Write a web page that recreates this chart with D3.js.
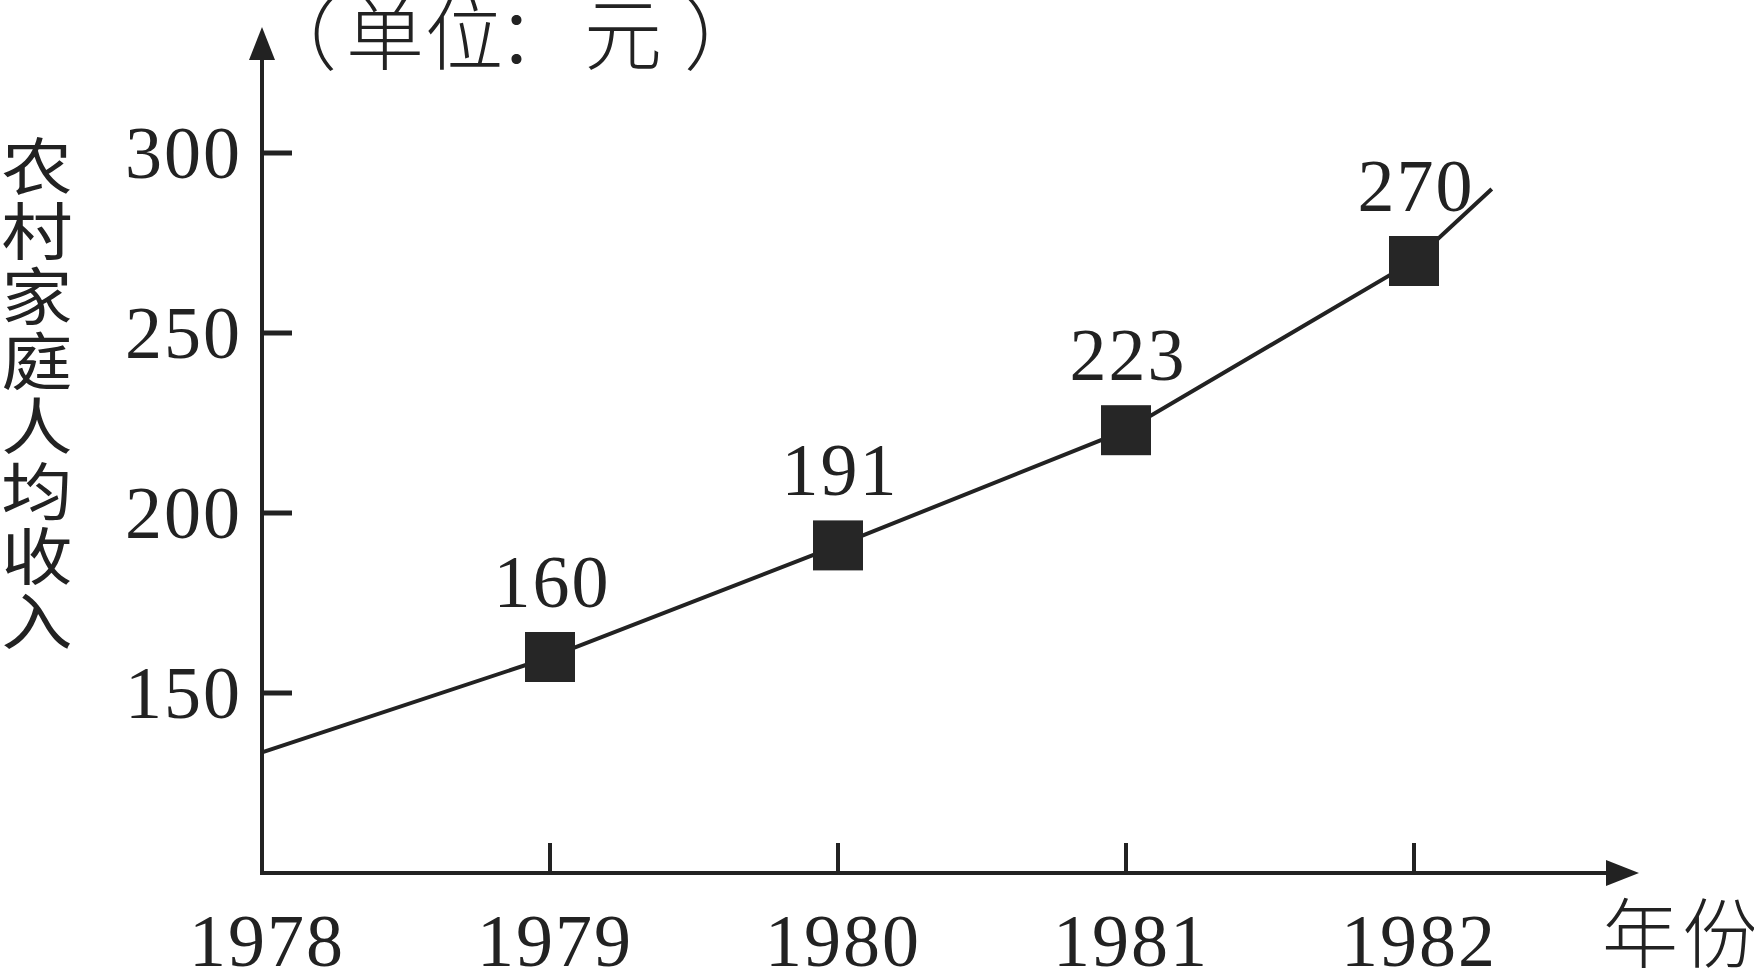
<!DOCTYPE html>
<html>
<head>
<meta charset="utf-8">
<script src="https://cdn.jsdelivr.net/npm/d3@7"></script>
<style>
  body { margin: 0; background: #fff; }
</style>
</head>
<body>
<div id="chart"></div>
<script>
// data
const years = [1979, 1980, 1981, 1982];
const income = [160, 191, 223, 270];
// the drawn line starts at the y axis and runs a little past 1982
const lineYears = [1978, 1979, 1980, 1981, 1982, 1982.27];
const lineValues = [133.5, 160, 191, 223, 270, 290];
const xTicks = [1978, 1979, 1980, 1981, 1982];
const yTicks = [150, 200, 250, 300];
const yTitle = "农村家庭人均收入";
const unitText = "（单位：元）";
const xTitle = "年份";

const width = 1754, height = 971;
const ink = "#222";
const serif = "'Liberation Serif', 'Times New Roman', serif";
const cjk = "'Noto Sans CJK SC', sans-serif";

const svg = d3.select("#chart").append("svg")
    .attr("width", width)
    .attr("height", height)
    .style("background", "#fff");

// scales
const x = d3.scaleLinear().domain([1978, 1982]).range([262, 1414]);
const y = d3.scaleLinear().domain([100, 300]).range([873, 153]);

const x0 = x(1978), y0 = y(100);

// axes lines with arrows
svg.append("line")
    .attr("x1", x0).attr("y1", y0)
    .attr("x2", 1610).attr("y2", y0)
    .attr("stroke", ink).attr("stroke-width", 4);
svg.append("path")
    .attr("d", `M1639,${y0} L1606,${y0 - 13} L1606,${y0 + 13} Z`)
    .attr("fill", ink);

svg.append("line")
    .attr("x1", x0).attr("y1", y0 + 2)
    .attr("x2", x0).attr("y2", 55)
    .attr("stroke", ink).attr("stroke-width", 4);
svg.append("path")
    .attr("d", `M${x0},27 L${x0 - 13},60 L${x0 + 13},60 Z`)
    .attr("fill", ink);

// y ticks
const yAxis = svg.append("g");
yTicks.forEach(t => {
    yAxis.append("line")
        .attr("x1", x0).attr("x2", x0 + 30)
        .attr("y1", y(t)).attr("y2", y(t))
        .attr("stroke", ink).attr("stroke-width", 5);
    yAxis.append("text")
        .attr("x", 242)
        .attr("y", y(t) + 25)
        .attr("text-anchor", "end")
        .attr("letter-spacing", 2)
        .style("font-family", serif)
        .style("font-size", "74px")
        .attr("fill", ink)
        .text(t);
});

// x ticks
const xAxis = svg.append("g");
xTicks.forEach(t => {
    if (t !== 1978) {
        xAxis.append("line")
            .attr("x1", x(t)).attr("x2", x(t))
            .attr("y1", y0).attr("y2", y0 - 30)
            .attr("stroke", ink).attr("stroke-width", 4);
    }
    xAxis.append("text")
        .attr("x", x(t) + 5)
        .attr("y", 966)
        .attr("text-anchor", "middle")
        .attr("letter-spacing", 2)
        .style("font-family", serif)
        .style("font-size", "74px")
        .attr("fill", ink)
        .text(t);
});

// line
const line = d3.line()
    .x(d => x(d[0]))
    .y(d => y(d[1]));

svg.append("path")
    .datum(lineYears.map((yr, i) => [yr, lineValues[i]]))
    .attr("d", line)
    .attr("fill", "none")
    .attr("stroke", ink)
    .attr("stroke-width", 4);

// markers
const size = 50;
const points = years.map((yr, i) => ({ year: yr, value: income[i] }));

svg.append("g").selectAll("rect")
    .data(points)
    .join("rect")
    .attr("x", d => x(d.year) - size / 2)
    .attr("y", d => y(d.value) - size / 2)
    .attr("width", size)
    .attr("height", size)
    .attr("fill", "#262626");

// value labels
svg.append("g").selectAll("text")
    .data(points)
    .join("text")
    .attr("x", d => x(d.year) + 2)
    .attr("y", d => y(d.value) - 50)
    .attr("text-anchor", "middle")
    .attr("letter-spacing", 2)
    .style("font-family", serif)
    .style("font-size", "74px")
    .attr("fill", ink)
    .text(d => d.value);

// unit label at top, each glyph placed to follow the wide spacing of the original
const unitX = [259, 346, 425, 497, 584, 684];
const unit = svg.append("text")
    .attr("y", 64)
    .style("font-family", cjk)
    .style("font-size", "78px")
    .style("font-weight", 300)
    .attr("fill", ink);
unitText.split("").forEach((ch, i) => {
    unit.append("tspan").attr("x", unitX[i]).text(ch);
});

// vertical y title, one text element with a tspan per glyph
const yt = svg.append("text")
    .attr("transform", "translate(37,0) scale(1.15,1)")
    .attr("text-anchor", "middle")
    .style("font-family", cjk)
    .style("font-size", "62px")
    .attr("fill", ink);
yTitle.split("").forEach((ch, i) => {
    yt.append("tspan")
        .attr("x", 0)
        .attr("y", 190 + i * 65)
        .text(ch);
});

// x title
svg.append("text")
    .attr("x", 1602)
    .attr("y", 962)
    .attr("letter-spacing", 4)
    .style("font-family", cjk)
    .style("font-size", "76px")
    .style("font-weight", 300)
    .attr("fill", ink)
    .text(xTitle);
</script>
</body>
</html>
